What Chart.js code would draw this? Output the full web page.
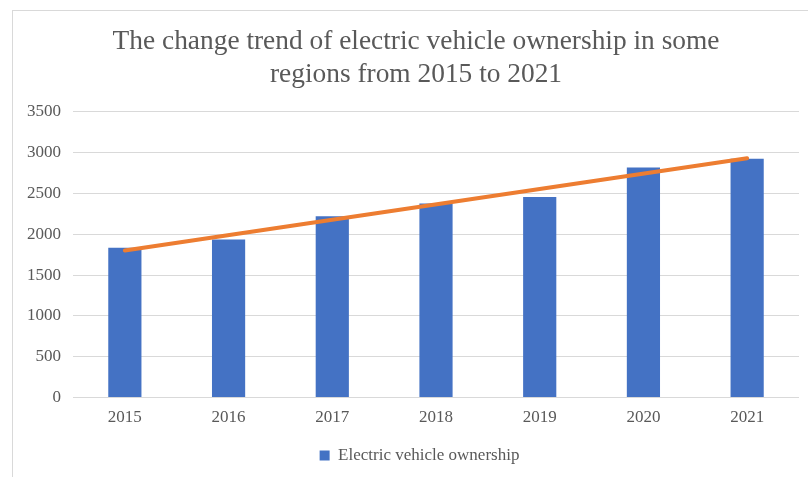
<!DOCTYPE html>
<html>
<head>
<meta charset="utf-8">
<script src="https://cdn.jsdelivr.net/npm/chart.js@4/dist/chart.umd.min.js"></script>
<style>
  html, body { margin: 0; padding: 0; background: #fff; overflow: hidden; }
  #frame { position: absolute; left: 12px; top: 10px; width: 900px; height: 600px;
           border-left: 1px solid #d9d9d9; border-top: 1px solid #d9d9d9; }
  #wrap { position: absolute; left: 0; top: 0; width: 832px; height: 474px; }
</style>
</head>
<body>
<div id="frame"></div>
<div id="wrap"><canvas id="canvas"></canvas></div>
<script>
const years = ["2015", "2016", "2017", "2018", "2019", "2020", "2021"];
const ownership = [1835, 1934, 2220, 2376, 2457, 2818, 2924];
// linear trend line, end points
const trendYears = ["2015", "2021"];
const trendValues = [1800, 2930];

const titleLines = ["The change trend of electric vehicle ownership in some", "regions from 2015 to 2021"];
const serif = "'Liberation Serif', 'Times New Roman', serif";
const grey = "#595959";

// title and legend are centred on the whole chart frame, not on the plot
const widenBoxes = {
  id: "widenBoxes",
  afterLayout(chart) {
    chart.titleBlock.right = chart.width;
    chart.legend.right = chart.width + 7;
  },
};

const canvas = document.querySelector("#canvas");
const chart = new Chart(canvas, {
  type: "bar",
  data: {
    labels: years,
    datasets: [
      {
        type: "line",
        label: "Trend",
        data: trendYears.map((y, i) => ({ x: y, y: trendValues[i] })),
        borderColor: "#ED7D31",
        backgroundColor: "#ED7D31",
        borderWidth: 4,
        pointRadius: 0,
        borderCapStyle: "round",
        order: 0,
      },
      {
        label: "Electric vehicle ownership",
        data: ownership,
        backgroundColor: "#4472C4",
        barPercentage: 0.32,
        categoryPercentage: 1,
        order: 1,
      },
    ],
  },
  plugins: [widenBoxes],
  options: {
    responsive: true,
    maintainAspectRatio: false,
    animation: false,
    layout: { padding: { left: 0, right: 33, top: 0, bottom: 0 } },
    plugins: {
      title: {
        display: true,
        text: titleLines,
        color: grey,
        font: { family: serif, size: 27.4, weight: "normal", lineHeight: 1.2 },
        padding: { top: 25, bottom: 21 },
      },
      legend: {
        position: "bottom",
        labels: {
          color: grey,
          font: { family: serif, size: 17 },
          boxWidth: 10,
          boxHeight: 10,
          padding: 10,
          filter: (item) => item.datasetIndex === 1,
        },
      },
      tooltip: { enabled: false },
    },
    scales: {
      x: {
        grid: { display: false },
        border: { display: false },
        ticks: { color: grey, font: { family: serif, size: 17 }, padding: 2 },
        afterFit: (scale) => { scale.height = 39.5; },
      },
      y: {
        min: 0,
        max: 3500,
        grid: { color: "#d9d9d9", drawTicks: false },
        border: { display: false },
        ticks: {
          stepSize: 500,
          color: grey,
          font: { family: serif, size: 17 },
          padding: 12,
          callback: (v) => String(v),
        },
        afterFit: (scale) => { scale.width = 73; },
      },
    },
  },
});
</script>
</body>
</html>
